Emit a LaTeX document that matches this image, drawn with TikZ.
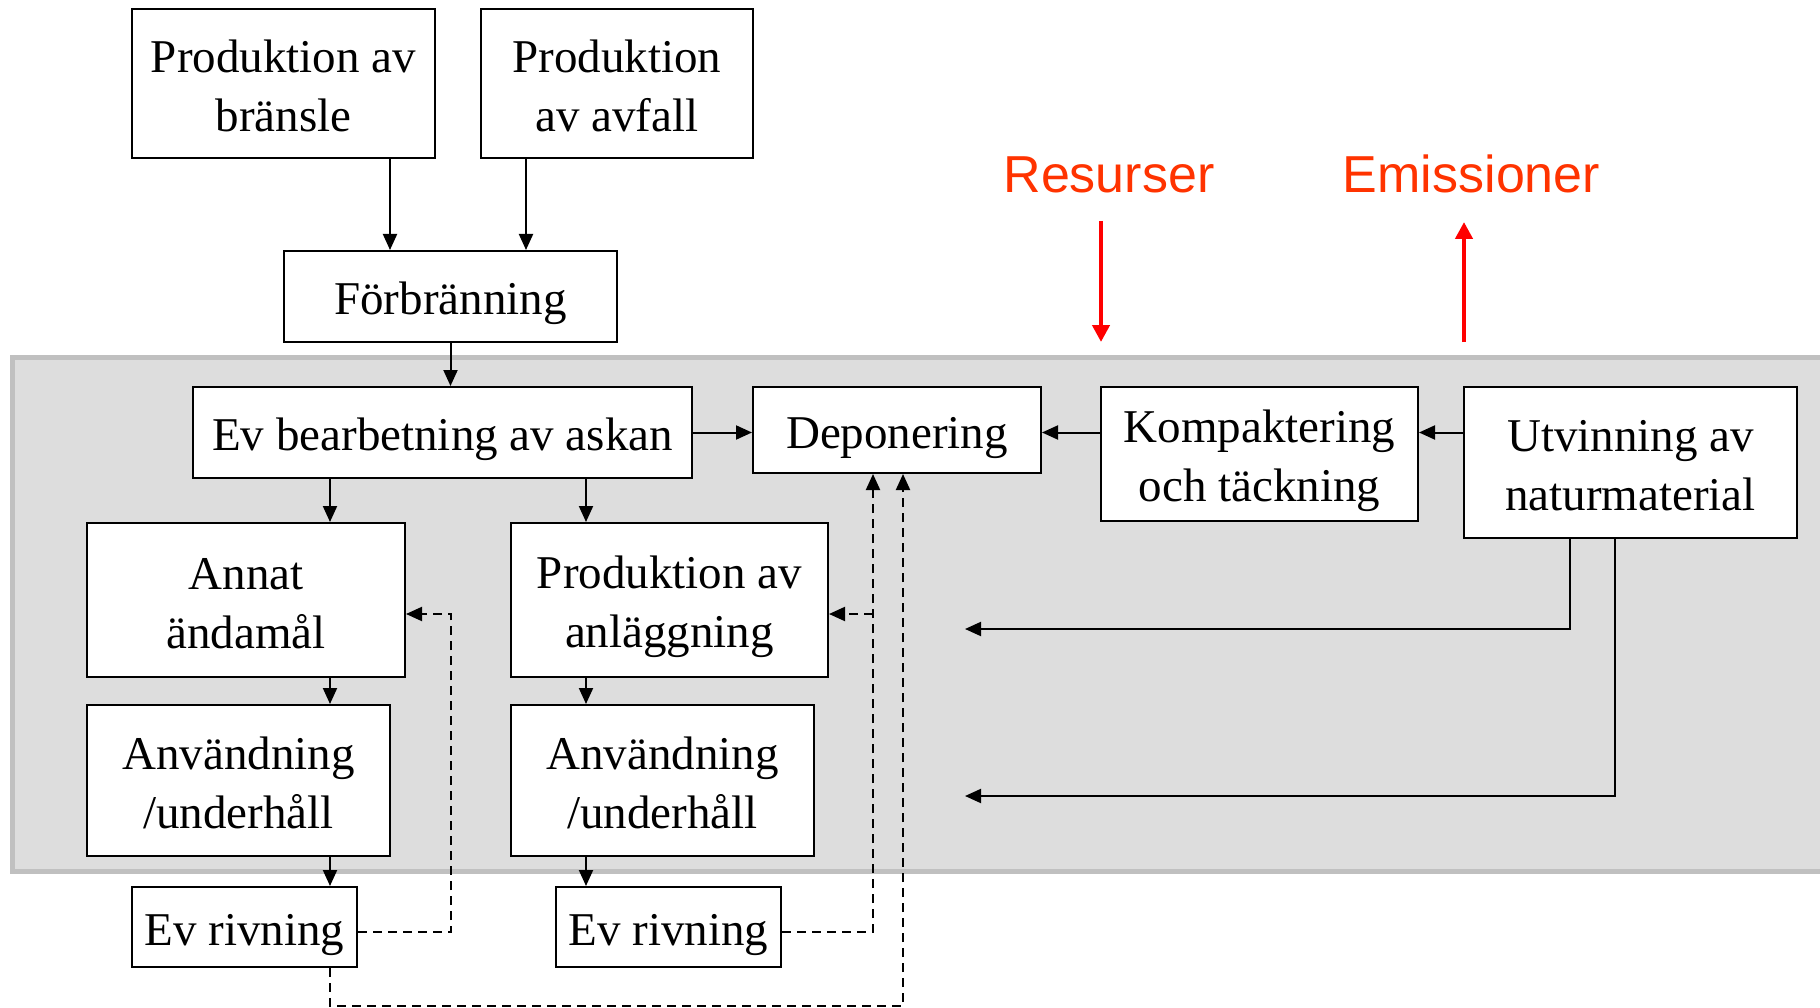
\documentclass[tikz,border=0pt]{standalone}
\usepackage{fontspec}
\setmainfont{Liberation Serif}
\newfontfamily\arialfont{Liberation Sans}
\usetikzlibrary{arrows.meta}
\definecolor{panelfill}{HTML}{DDDDDD}
\definecolor{panelline}{HTML}{C0C0C0}
\definecolor{labred}{HTML}{FF3300}
\newcommand{\ms}{\rule[-0.2em]{0pt}{1.2em}}
\begin{document}
\begin{tikzpicture}[x=1pt,y=-1pt,
  box/.style={draw,line width=2pt,fill=white,inner sep=0pt,align=center,font=\fontsize{47}{59}\selectfont},
  arr/.style={line width=2pt,-{Triangle[length=16pt,width=14pt]}},
  darr/.style={arr,dash pattern=on 9pt off 6pt},
  redarr/.style={red,line width=4.5pt,-{Triangle[length=17pt,width=17pt]}},
  lab/.style={font=\arialfont\fontsize{52}{60}\selectfont,text=labred,anchor=base,inner sep=0pt}]
\useasboundingbox (0,0) rectangle (1820,1008);
% panel
\fill[panelfill] (12,357) rectangle (1820,871);
\draw[panelline,line width=5pt] (1820,357) -- (12,357) -- (12,871) -- (1820,871);
% nodes
\node[box,minimum width=303pt,minimum height=149pt] (bransle) at (283.5,83.5) {\ms Produktion av\\\ms bränsle};
\node[box,minimum width=272pt,minimum height=149pt] (avfall) at (617,83.5) {\ms Produktion\\\ms av avfall};
\node[box,minimum width=333pt,minimum height=91pt] (forb) at (450.5,296.5) {\ms Förbränning};
\node[box,minimum width=499pt,minimum height=91pt] (bearb) at (442.5,432.5) {\ms Ev bearbetning av askan};
\node[box,minimum width=288pt,minimum height=86pt] (depon) at (897,430) {\ms Deponering};
\node[box,minimum width=317pt,minimum height=134pt] (kompakt) at (1259.5,454) {\ms Kompaktering\\\ms och täckning};
\node[box,minimum width=333pt,minimum height=151pt] (utvinn) at (1630.5,462.5) {\ms Utvinning av\\\ms naturmaterial};
\node[box,minimum width=318pt,minimum height=154pt] (annat) at (246,600) {\ms Annat\\\ms ändamål};
\node[box,minimum width=317pt,minimum height=154pt] (prodanl) at (669.5,600) {\ms Produktion av\\\ms anläggning};
\node[box,minimum width=303pt,minimum height=151pt] (anv1) at (238.5,780.5) {\ms Användning\\\ms /underhåll};
\node[box,minimum width=303pt,minimum height=151pt] (anv2) at (662.5,780.5) {\ms Användning\\\ms /underhåll};
\node[box,minimum width=225pt,minimum height=80pt] (riv1) at (244.5,927) {\ms Ev rivning};
\node[box,minimum width=225pt,minimum height=80pt] (riv2) at (668.5,927) {\ms Ev rivning};
% labels
\node[lab] (res) at (1109,193) {Resurser};
\node[lab] (emi) at (1471.5,193) {Emissioner};
% top arrows
\coordinate (f1) at ([xshift=-60.5pt]forb.north);
\coordinate (f2) at ([xshift=75.5pt]forb.north);
\draw[arr] (bransle.south -| f1) -- (f1);
\draw[arr] (avfall.south -| f2) -- (f2);
\draw[arr] (forb.south) -- (forb.south |- bearb.north);
% row arrows
\draw[arr] (bearb.east) -- (bearb.east -| depon.west);
\draw[arr] (kompakt.west |- bearb.east) -- (depon.east |- bearb.east);
\draw[arr] (utvinn.west |- bearb.east) -- (kompakt.east |- bearb.east);
% columns
\coordinate (lc) at ([xshift=84pt]annat.north);
\coordinate (rc) at ([xshift=-83.5pt]prodanl.north);
\draw[arr] (bearb.south -| lc) -- (lc);
\draw[arr] (annat.south -| lc) -- (anv1.north -| lc);
\draw[arr] (anv1.south -| lc) -- (riv1.north -| lc);
\draw[arr] (bearb.south -| rc) -- (rc);
\draw[arr] (prodanl.south -| rc) -- (anv2.north -| rc);
\draw[arr] (anv2.south -| rc) -- (riv2.north -| rc);
% natural material lines
\coordinate (u1) at ([xshift=-60.5pt]utvinn.south);
\coordinate (u1e) at (965,629);
\coordinate (u2) at ([xshift=-15.5pt]utvinn.south);
\coordinate (u2e) at (965,796);
\draw[arr] (u1) |- (u1e);
\draw[arr] (u2) |- (u2e);
% dashed returns
\coordinate (d1) at (451,614);
\coordinate (d2) at ([xshift=-24pt]depon.south);
\coordinate (d3) at ([xshift=6pt]depon.south);
\coordinate (bot) at (0,1006);
\draw[darr] ([yshift=-5pt]riv1.east) -| (d1) -- (annat.east |- d1);
\draw[darr] ([yshift=-5pt]riv2.east) -| (d2);
\draw[darr] (d2 |- d1) -- (prodanl.east |- d1);
\draw[darr] (riv1.south -| lc) |- (bot -| d3) -- (d3);
% red arrows
\coordinate (r1) at (1101,221);
\coordinate (r2) at (1101,342);
\coordinate (e1) at (1464,342);
\coordinate (e2) at (1464,222);
\draw[redarr] (r1) -- (r2);
\draw[redarr] (e1) -- (e2);
\end{tikzpicture}
\end{document}
